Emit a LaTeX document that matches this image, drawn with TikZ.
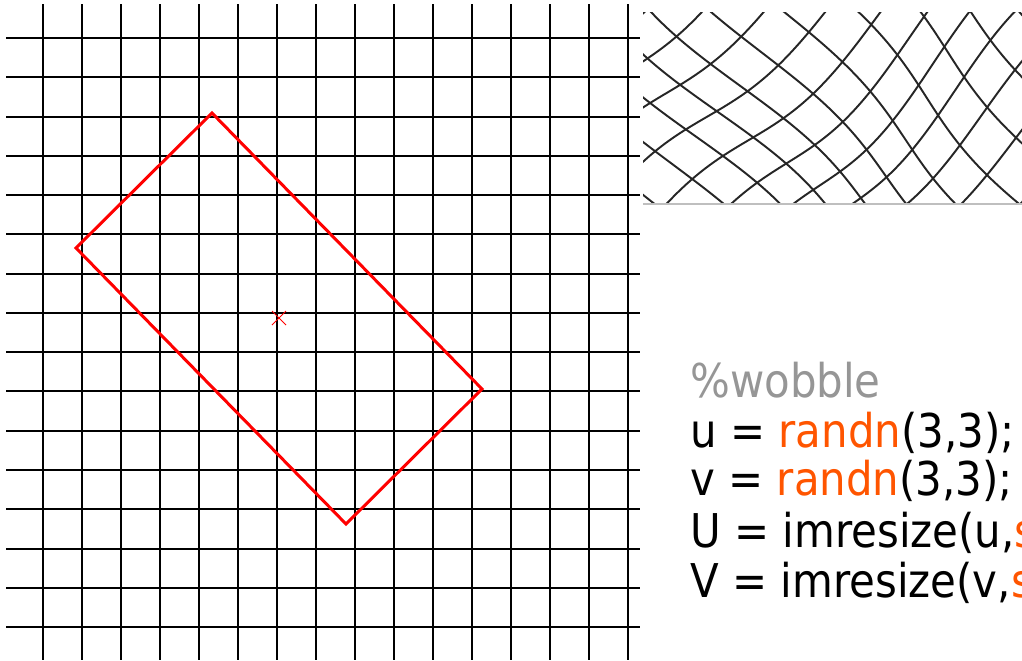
\documentclass[tikz,border=0pt]{standalone}
\usepackage{fontspec}
\setmainfont{DejaVu Sans}[FakeStretch=0.9]
\usetikzlibrary{calc}

\definecolor{codegray}{RGB}{150,150,150}
\definecolor{codeorange}{RGB}{255,85,0}

% warp of the rotated grid
\pgfmathdeclarefunction{wobx}{2}{\pgfmathparse{#1 + 13*sin(0.9*#1 + 0.5*#2 + 20)}}
\pgfmathdeclarefunction{woby}{2}{\pgfmathparse{#2 + 14*sin(0.6*#1 - 0.9*#2 + 40)}}

\begin{document}
\begin{tikzpicture}[
    x=0.02cm, y=-0.02cm,
    gridline/.style={black, line width=1.14pt},
    wobline/.style={black!85, line width=1.1pt},
    boxline/.style={red, line width=1.7pt, line join=miter},
    code/.style={anchor=base west, inner sep=0pt, font=\fontsize{26.5}{28}\selectfont}
]
\useasboundingbox (0,0) rectangle (1022,660);

% ============ REGULAR GRID ============
\foreach \i in {0,...,15} {
    \draw[gridline] ({43+39*\i}, 4) -- ({43+39*\i}, 660);
}
\foreach \j in {0,...,15} {
    \draw[gridline] (6, {round(38+39.27*\j)}) -- (640, {round(38+39.27*\j)});
}

% ============ ROTATED BOX ============
\draw[boxline] (212,113) -- (482,389) -- (346,524) -- (76,248) -- cycle;
\draw[red, line width=0.5pt] (272,311) -- (286,325);
\draw[red, line width=0.5pt] (272,325) -- (286,311);

% ============ WOBBLED GRID ============
\begin{scope}
    \clip (643,12) rectangle (1022,204);
    \foreach \k in {-8,...,8} {
        \draw[wobline, domain=-320:320, samples=60, variable=\s, smooth] plot
            ({wobx(830+0.7071*\s+28.28*\k, 108+0.7071*\s-28.28*\k)},
             {woby(830+0.7071*\s+28.28*\k, 108+0.7071*\s-28.28*\k)});
        \draw[wobline, domain=-320:320, samples=60, variable=\s, smooth] plot
            ({wobx(830+28.28*\k+0.7071*\s, 108+28.28*\k-0.7071*\s)},
             {woby(830+28.28*\k+0.7071*\s, 108+28.28*\k-0.7071*\s)});
    }
\end{scope}
\draw[black!25, line width=0.6pt] (643,204) -- (1022,204);

% ============ CODE ============
\begin{scope}
    \clip (643,340) rectangle (1022,660);
    \node[code, text=codegray] (cmt) at (690,397) {\%wobble};
    \node[code] (lineu) at (690,447) {u = \textcolor{codeorange}{randn}(3,3);};
    \node[code] (linev) at (690,495) {v = \textcolor{codeorange}{randn}(3,3);};
    \node[code] (lineU) at (690,547) {U = imresize(u,\textcolor{codeorange}{s}};
    \node[code] (lineV) at (690,597) {V = imresize(v,\textcolor{codeorange}{s}};
\end{scope}

\end{tikzpicture}
\end{document}
